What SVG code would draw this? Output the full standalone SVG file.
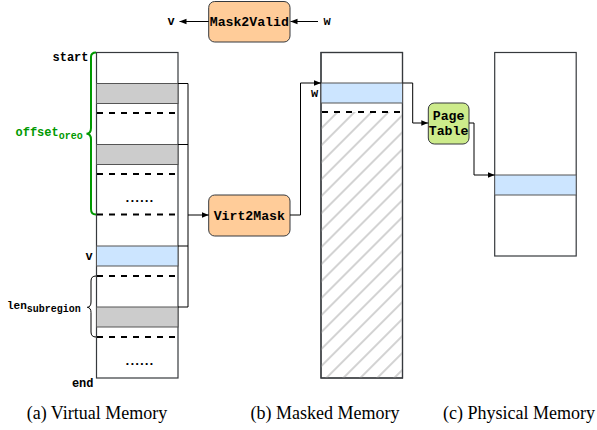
<svg xmlns="http://www.w3.org/2000/svg" width="597" height="430" viewBox="0 0 597 430">
  <style>
    .col { fill: #ffffff; stroke: #36393d; stroke-width: 1.2; }
    .gray { fill: #cccccc; stroke: #555555; stroke-width: 1; }
    .blue { fill: #cce5ff; stroke: #555555; stroke-width: 1; }
    .dash { stroke: #000000; stroke-width: 2; stroke-dasharray: 6 6; fill: none; }
    .op { fill: #ffcc99; stroke: #36393d; stroke-width: 1; }
    .pt { fill: #cdeb8b; stroke: #36393d; stroke-width: 1; }
    .mono { font-family: "Liberation Mono", "Courier New", monospace; font-weight: bold; fill: #000000; }
    .lbl { font-size: 12px; }
    .boxt { font-size: 13.2px; }
    .dots { font-size: 13px; letter-spacing: -3px; }
    .cap { font-family: "Liberation Serif", "Times New Roman", serif; font-size: 18px; fill: #000000; }
    .conn { fill: none; stroke: #000000; stroke-width: 1; }
  </style>
  <defs>
    <marker id="arr" viewBox="0 0 10 10" refX="10" refY="5" markerWidth="7" markerHeight="7" markerUnits="userSpaceOnUse" orient="auto">
      <path d="M0,1 L10,5 L0,9 z" fill="#000000"/>
    </marker>
    <pattern id="hatch" patternUnits="userSpaceOnUse" width="12" height="12" patternTransform="rotate(-45)">
      <line x1="0" y1="6" x2="12" y2="6" stroke="#c8c8c8" stroke-width="1.6"/>
    </pattern>
  </defs>

  <!-- (a) Virtual memory -->
  <g id="virtual-memory">
    <rect class="col" x="96.5" y="52.5" width="81.5" height="325.5"/>
    <rect class="gray" x="96.5" y="83.5" width="81.5" height="20"/>
    <line class="dash" x1="97" y1="113" x2="178" y2="113"/>
    <rect class="gray" x="96.5" y="144.5" width="81.5" height="20"/>
    <line class="dash" x1="97" y1="174" x2="178" y2="174"/>
    <text class="mono dots" x="138" y="202" text-anchor="middle">......</text>
    <line class="dash" x1="97" y1="214.5" x2="178" y2="214.5"/>
    <rect class="blue" x="96.5" y="246" width="81.5" height="20"/>
    <line class="dash" x1="97" y1="276" x2="178" y2="276"/>
    <rect class="gray" x="96.5" y="307" width="81.5" height="20"/>
    <line class="dash" x1="97" y1="337" x2="178" y2="337"/>
    <text class="mono dots" x="138" y="364.5" text-anchor="middle">......</text>
  </g>

  <!-- (b) Masked memory -->
  <g id="masked-memory">
    <rect class="col" x="321" y="52.5" width="81.5" height="325.5"/>
    <rect x="321" y="112" width="81.5" height="266" fill="url(#hatch)"/>
    <rect x="321" y="52.5" width="81.5" height="325.5" fill="none" stroke="#36393d" stroke-width="1.2"/>
    <rect class="blue" x="321" y="83" width="81.5" height="20"/>
    <line class="dash" x1="322" y1="112" x2="402" y2="112"/>
  </g>

  <!-- (c) Physical memory -->
  <g id="physical-memory">
    <rect class="col" x="494.7" y="52.5" width="81.5" height="203.5"/>
    <rect class="blue" x="494.7" y="175" width="81.5" height="20"/>
  </g>

  <!-- operation boxes -->
  <g id="mask2valid">
    <rect class="op" x="208.7" y="1.5" width="81.3" height="40.5" rx="6" ry="6"/>
    <text class="mono boxt" x="249.3" y="25.8" text-anchor="middle">Mask2Valid</text>
  </g>
  <g id="virt2mask">
    <rect class="op" x="208.7" y="195" width="81.3" height="41" rx="6" ry="6"/>
    <text class="mono boxt" x="249.3" y="219.6" text-anchor="middle">Virt2Mask</text>
  </g>
  <g id="page-table">
    <rect class="pt" x="428.3" y="103" width="40.7" height="41" rx="6" ry="6"/>
    <text class="mono boxt" x="448.6" y="120.3" text-anchor="middle">Page</text>
    <text class="mono boxt" x="448.6" y="135.3" text-anchor="middle">Table</text>
  </g>

  <!-- labels -->
  <g id="labels">
    <text class="mono lbl" x="88.5" y="60.8" text-anchor="end">start</text>
    <text class="mono lbl" x="92.8" y="260" text-anchor="end">v</text>
    <text class="mono lbl" x="93.5" y="386.5" text-anchor="end">end</text>
    <text class="mono lbl" x="171" y="24.8" text-anchor="middle">v</text>
    <text class="mono lbl" x="327" y="24.8" text-anchor="middle">w</text>
    <text class="mono lbl" x="318.3" y="96.8" text-anchor="end">w</text>
    <text class="mono" x="15.5" y="135.5" font-size="12" style="fill:#009900">offset<tspan font-size="10" dy="3">oreo</tspan></text>
    <text class="mono" x="7" y="309" font-size="11">len<tspan font-size="10" dy="2.5">subregion</tspan></text>
  </g>

  <!-- braces -->
  <g id="braces">
    <path d="M96,52.5 Q91,52.5 91,57 L91,128 Q91,133.5 86.5,133.8 Q91,134 91,139.5 L91,209 Q91,214.5 96,214.5" fill="none" stroke="#009900" stroke-width="2"/>
    <path d="M96,276 Q91,276 91,281 L91,302 Q91,307 87.3,307.3 Q91,307.6 91,312.5 L91,332 Q91,337 96,337" fill="none" stroke="#000000" stroke-width="1"/>
  </g>

  <!-- connectors -->
  <g id="connectors">
    <path class="conn" d="M178,83.5 H188 V307 H178"/>
    <path class="conn" d="M178,144.5 H188"/>
    <path class="conn" d="M178,246 H188"/>
    <path class="conn" d="M188,215 H208.7" marker-end="url(#arr)"/>
    <path class="conn" d="M290,215 H300.5 V83 H321" marker-end="url(#arr)"/>
    <path class="conn" d="M402.5,83 H412.7 V123 H428.3" marker-end="url(#arr)"/>
    <path class="conn" d="M469,123 H474 V175 H494.7" marker-end="url(#arr)"/>
    <path class="conn" d="M208.7,21.5 H179.5" marker-end="url(#arr)"/>
    <path class="conn" d="M318,21.5 H290.5" marker-end="url(#arr)"/>
  </g>

  <!-- captions -->
  <g id="captions">
    <text class="cap" x="97" y="419" text-anchor="middle">(a) Virtual Memory</text>
    <text class="cap" x="325" y="419" text-anchor="middle">(b) Masked Memory</text>
    <text class="cap" x="519" y="419" text-anchor="middle">(c) Physical Memory</text>
  </g>
</svg>
